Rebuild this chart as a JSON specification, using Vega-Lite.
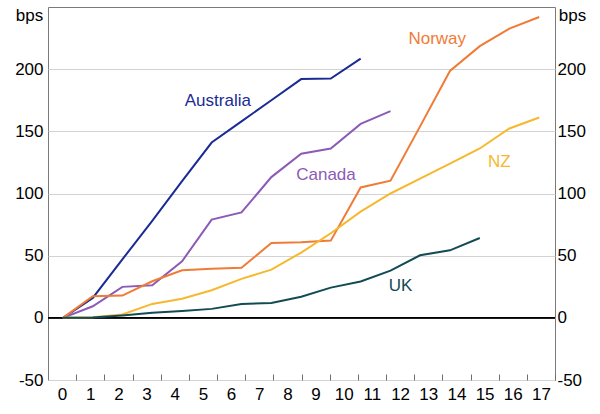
{
  "$schema": "https://vega.github.io/schema/vega-lite/v6.json",
  "width": 507,
  "height": 373,
  "autosize": {"type": "none"},
  "padding": {"left": 48, "top": 7, "right": 45, "bottom": 34},
  "config": {
    "view": {"stroke": "#7a7a7a", "strokeWidth": 1},
    "font": "Liberation Sans",
    "axis": {
      "labelFont": "Liberation Sans",
      "labelFontSize": 17,
      "labelColor": "#000000",
      "titleFont": "Liberation Sans",
      "titleFontSize": 17,
      "titleFontWeight": "normal",
      "titleColor": "#000000",
      "domain": false,
      "grid": false
    },
    "axisY": {"ticks": false}
  },
  "datasets": {
    "series": [
      {"m": 0.03, "country": "Australia", "bps": 0},
      {"m": 1.09, "country": "Australia", "bps": 16},
      {"m": 2.14, "country": "Australia", "bps": 47},
      {"m": 3.2, "country": "Australia", "bps": 78},
      {"m": 4.26, "country": "Australia", "bps": 110},
      {"m": 5.31, "country": "Australia", "bps": 141},
      {"m": 6.37, "country": "Australia", "bps": 158},
      {"m": 7.43, "country": "Australia", "bps": 175},
      {"m": 8.49, "country": "Australia", "bps": 192},
      {"m": 9.54, "country": "Australia", "bps": 192.5},
      {"m": 10.6, "country": "Australia", "bps": 208.5},

      {"m": 0.03, "country": "Canada", "bps": 0},
      {"m": 1.09, "country": "Canada", "bps": 9.3},
      {"m": 2.14, "country": "Canada", "bps": 24.9},
      {"m": 3.2, "country": "Canada", "bps": 26.2},
      {"m": 4.26, "country": "Canada", "bps": 45.5},
      {"m": 5.31, "country": "Canada", "bps": 79},
      {"m": 6.37, "country": "Canada", "bps": 84.8},
      {"m": 7.43, "country": "Canada", "bps": 113.2},
      {"m": 8.49, "country": "Canada", "bps": 132},
      {"m": 9.54, "country": "Canada", "bps": 136.2},
      {"m": 10.6, "country": "Canada", "bps": 156},
      {"m": 11.66, "country": "Canada", "bps": 166.3},

      {"m": 0.03, "country": "Norway", "bps": 0},
      {"m": 1.09, "country": "Norway", "bps": 17.4},
      {"m": 2.14, "country": "Norway", "bps": 17.9},
      {"m": 3.2, "country": "Norway", "bps": 29.4},
      {"m": 4.26, "country": "Norway", "bps": 38.3},
      {"m": 5.31, "country": "Norway", "bps": 39.4},
      {"m": 6.37, "country": "Norway", "bps": 40.2},
      {"m": 7.43, "country": "Norway", "bps": 60.2},
      {"m": 8.49, "country": "Norway", "bps": 60.8},
      {"m": 9.54, "country": "Norway", "bps": 62.1},
      {"m": 10.6, "country": "Norway", "bps": 104.9},
      {"m": 11.66, "country": "Norway", "bps": 110.3},
      {"m": 12.71, "country": "Norway", "bps": 154},
      {"m": 13.77, "country": "Norway", "bps": 198.6},
      {"m": 14.83, "country": "Norway", "bps": 218.5},
      {"m": 15.88, "country": "Norway", "bps": 232.6},
      {"m": 16.94, "country": "Norway", "bps": 242},

      {"m": 0.03, "country": "NZ", "bps": 0},
      {"m": 1.09, "country": "NZ", "bps": 0.5},
      {"m": 2.14, "country": "NZ", "bps": 2.7},
      {"m": 3.2, "country": "NZ", "bps": 11.2},
      {"m": 4.26, "country": "NZ", "bps": 15.3},
      {"m": 5.31, "country": "NZ", "bps": 22.2},
      {"m": 6.37, "country": "NZ", "bps": 31.3},
      {"m": 7.43, "country": "NZ", "bps": 38.8},
      {"m": 8.49, "country": "NZ", "bps": 52.5},
      {"m": 9.54, "country": "NZ", "bps": 68},
      {"m": 10.6, "country": "NZ", "bps": 85.4},
      {"m": 11.66, "country": "NZ", "bps": 100},
      {"m": 12.71, "country": "NZ", "bps": 112},
      {"m": 13.77, "country": "NZ", "bps": 124},
      {"m": 14.83, "country": "NZ", "bps": 136.2},
      {"m": 15.88, "country": "NZ", "bps": 152.3},
      {"m": 16.94, "country": "NZ", "bps": 161.1},

      {"m": 0.03, "country": "UK", "bps": 0},
      {"m": 1.09, "country": "UK", "bps": 0.3},
      {"m": 2.14, "country": "UK", "bps": 1.9},
      {"m": 3.2, "country": "UK", "bps": 4},
      {"m": 4.26, "country": "UK", "bps": 5.4},
      {"m": 5.31, "country": "UK", "bps": 7.2},
      {"m": 6.37, "country": "UK", "bps": 11.2},
      {"m": 7.43, "country": "UK", "bps": 12},
      {"m": 8.49, "country": "UK", "bps": 17},
      {"m": 9.54, "country": "UK", "bps": 24.3},
      {"m": 10.6, "country": "UK", "bps": 29.2},
      {"m": 11.66, "country": "UK", "bps": 38},
      {"m": 12.71, "country": "UK", "bps": 50.3},
      {"m": 13.77, "country": "UK", "bps": 54.3},
      {"m": 14.83, "country": "UK", "bps": 64.2}
    ],
    "labels": [
      {"m": 5.53, "bps": 174.5, "country": "Australia"},
      {"m": 9.37, "bps": 115, "country": "Canada"},
      {"m": 13.32, "bps": 224, "country": "Norway"},
      {"m": 15.52, "bps": 125.5, "country": "NZ"},
      {"m": 12.02, "bps": 25.7, "country": "UK"}
    ]
  },
  "layer": [
    {
      "data": {"name": "labels"},
      "mark": {"type": "rule", "color": "#000000", "strokeWidth": 1},
      "encoding": {
        "y": {
          "datum": 0,
          "type": "quantitative",
          "scale": {"domain": [-50, 250], "nice": false, "zero": false},
          "axis": null
        }
      }
    },
    {
      "data": {"name": "series"},
      "mark": {"type": "line", "strokeWidth": 2},
      "encoding": {
        "x": {
          "field": "m",
          "type": "quantitative",
          "scale": {"domain": [-0.5, 17.5], "nice": false, "zero": false},
          "axis": {
            "orient": "bottom",
            "offset": -6,
            "values": [0.5, 1.5, 2.5, 3.5, 4.5, 5.5, 6.5, 7.5, 8.5, 9.5, 10.5, 11.5, 12.5, 13.5, 14.5, 15.5, 16.5, 17.5],
            "labelExpr": "toString(datum.value - 0.5)",
            "labelOffset": -14.08,
            "labelFlush": false,
            "labelBound": false,
            "labelOverlap": false,
            "labelPadding": 6,
            "ticks": true,
            "tickSize": 6,
            "tickWidth": 1,
            "tickColor": "#6e6e6e",
            "title": null
          }
        },
        "y": {
          "field": "bps",
          "type": "quantitative",
          "scale": {"domain": [-50, 250], "nice": false, "zero": false},
          "axis": {
            "orient": "left",
            "values": [-50, 0, 50, 100, 150, 200],
            "labelExpr": "toString(datum.value)",
            "grid": true,
            "gridColor": "#d3d3d3",
            "gridWidth": 1,
            "labelPadding": 5,
            "title": "bps",
            "titleAngle": 0,
            "titleAlign": "center",
            "titleBaseline": "alphabetic",
            "titleX": -19,
            "titleY": 13
          }
        },
        "color": {
          "field": "country",
          "type": "nominal",
          "scale": {
            "domain": ["Australia", "Canada", "Norway", "NZ", "UK"],
            "range": ["#1a2b94", "#8c5bb5", "#f07b36", "#f6b82e", "#124b53"]
          },
          "legend": null
        }
      }
    },
    {
      "data": {"name": "labels"},
      "mark": {"type": "text", "fontSize": 17, "font": "Liberation Sans", "align": "center", "baseline": "middle"},
      "encoding": {
        "x": {
          "field": "m",
          "type": "quantitative",
          "scale": {"domain": [-0.5, 17.5], "nice": false, "zero": false},
          "axis": null
        },
        "y": {
          "field": "bps",
          "type": "quantitative",
          "scale": {"domain": [-50, 250], "nice": false, "zero": false},
          "axis": {
            "orient": "right",
            "values": [-50, 0, 50, 100, 150, 200],
            "labelExpr": "toString(datum.value)",
            "labelPadding": 2,
            "title": "bps",
            "titleAngle": 0,
            "titleAlign": "center",
            "titleBaseline": "alphabetic",
            "titleX": 17,
            "titleY": 13
          }
        },
        "text": {"field": "country", "type": "nominal"},
        "color": {
          "field": "country",
          "type": "nominal",
          "scale": {
            "domain": ["Australia", "Canada", "Norway", "NZ", "UK"],
            "range": ["#1a2b94", "#8c5bb5", "#f07b36", "#f6b82e", "#124b53"]
          },
          "legend": null
        }
      }
    }
  ],
  "resolve": {"scale": {"x": "independent", "y": "independent"}}
}
